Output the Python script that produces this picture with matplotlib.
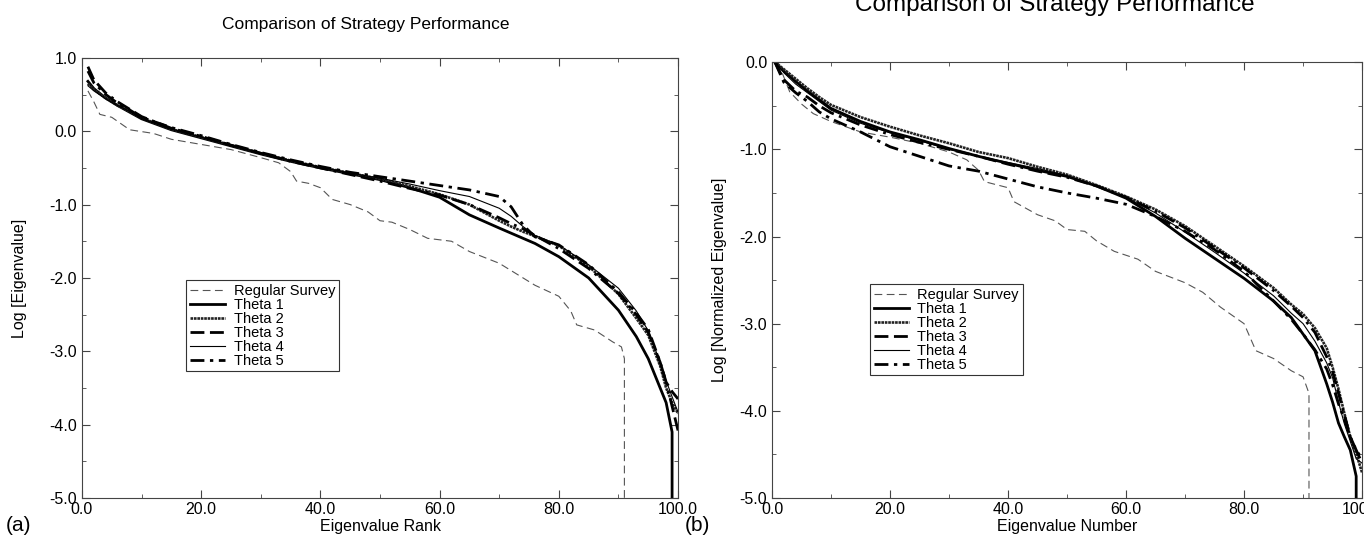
import numpy as np
import matplotlib.pyplot as plt
from matplotlib.ticker import MultipleLocator, FormatStrFormatter

plt.rcParams['font.family'] = ['Liberation Sans', 'DejaVu Sans']
plt.rcParams['axes.unicode_minus'] = False

labels = ['Regular Survey', 'Theta 1', 'Theta 2', 'Theta 3', 'Theta 4', 'Theta 5']

# ---- panel (a): Log [Eigenvalue] vs rank
xa_reg = [1, 2, 3, 5, 8, 12, 15, 20, 25, 30, 33, 35, 36, 38, 40, 42, 45, 48, 50, 52,
          55, 58, 62, 65, 70, 73, 76, 80, 82, 83, 86, 89, 90.5, 91, 91]
ya_reg = [0.55, 0.40, 0.23, 0.19, 0.02, -0.03, -0.11, -0.18, -0.25, -0.36, -0.43, -0.55,
          -0.68, -0.71, -0.77, -0.93, -1.00, -1.10, -1.22, -1.24, -1.34, -1.46, -1.50,
          -1.64, -1.80, -1.95, -2.10, -2.25, -2.45, -2.64, -2.71, -2.87, -2.94, -3.10, -5.0]

xa = [1, 2, 4, 6, 8, 10, 15, 20, 25, 30, 35, 40, 45, 50, 55, 60, 65, 70, 72, 74, 76,
      80, 85, 90, 93, 95, 97, 98, 99, 100]
xa_t1 = xa[:-1] + [99]
ya_t1 = [0.68, 0.58, 0.45, 0.35, 0.26, 0.17, 0.02, -0.09, -0.20, -0.31, -0.41, -0.50,
         -0.58, -0.66, -0.77, -0.90, -1.14, -1.32, -1.39, -1.46, -1.53, -1.71, -2.00,
         -2.44, -2.80, -3.10, -3.50, -3.70, -4.10, -5.0]
ya_t2 = [0.65, 0.57, 0.45, 0.35, 0.27, 0.18, 0.03, -0.08, -0.19, -0.30, -0.40, -0.49,
         -0.57, -0.65, -0.75, -0.86, -1.00, -1.22, -1.30, -1.37, -1.43, -1.56, -1.84,
         -2.22, -2.55, -2.78, -3.20, -3.50, -3.70, -3.85]
ya_t3 = [0.88, 0.70, 0.52, 0.40, 0.30, 0.20, 0.04, -0.07, -0.19, -0.30, -0.41, -0.50,
         -0.59, -0.68, -0.78, -0.87, -1.00, -1.18, -1.26, -1.33, -1.42, -1.60, -1.87,
         -2.21, -2.50, -2.74, -3.15, -3.42, -3.75, -4.08]
ya_t4 = [0.62, 0.55, 0.44, 0.35, 0.27, 0.17, 0.03, -0.08, -0.19, -0.30, -0.40, -0.49,
         -0.57, -0.64, -0.72, -0.81, -0.89, -1.05, -1.16, -1.30, -1.42, -1.55, -1.82,
         -2.14, -2.45, -2.72, -3.15, -3.40, -3.62, -3.83]
ya_t5 = [0.82, 0.66, 0.50, 0.38, 0.29, 0.19, 0.05, -0.06, -0.18, -0.29, -0.39, -0.48,
         -0.56, -0.62, -0.68, -0.74, -0.80, -0.89, -1.03, -1.28, -1.44, -1.55, -1.82,
         -2.19, -2.48, -2.70, -3.15, -3.42, -3.55, -3.65]

# ---- panel (b): Log [Normalized Eigenvalue] vs number
xb_reg = [1, 3, 5, 7, 10, 15, 20, 25, 30, 33, 35, 36, 40, 41, 45, 48, 50, 53, 55, 58,
          62, 65, 70, 73, 76, 80, 82, 85, 88, 90, 91, 91]
yb_reg = [0.0, -0.34, -0.48, -0.59, -0.68, -0.80, -0.86, -0.93, -1.03, -1.12, -1.24,
          -1.37, -1.44, -1.60, -1.75, -1.82, -1.92, -1.94, -2.05, -2.17, -2.26, -2.40,
          -2.53, -2.64, -2.81, -3.00, -3.31, -3.40, -3.54, -3.61, -3.80, -5.0]

xb = [0.5, 2, 4, 6, 8, 10, 15, 20, 25, 30, 35, 40, 45, 50, 55, 60, 65, 70, 75, 80, 85,
      88, 90, 92, 94, 95, 96, 97, 98, 99, 100]
xb_t1 = xb[:-1] + [99]
yb_t1 = [0.0, -0.10, -0.22, -0.33, -0.43, -0.53, -0.68, -0.80, -0.89, -0.99, -1.08,
         -1.16, -1.24, -1.31, -1.42, -1.56, -1.77, -2.02, -2.25, -2.48, -2.74, -2.93,
         -3.12, -3.31, -3.69, -3.90, -4.14, -4.30, -4.45, -4.75, -5.0]
yb_t2 = [0.0, -0.08, -0.19, -0.30, -0.40, -0.49, -0.63, -0.74, -0.84, -0.93, -1.03,
         -1.10, -1.20, -1.29, -1.41, -1.54, -1.69, -1.88, -2.11, -2.34, -2.59, -2.78,
         -2.89, -3.05, -3.28, -3.50, -3.75, -4.03, -4.30, -4.49, -4.71]
yb_t3 = [0.0, -0.20, -0.33, -0.40, -0.50, -0.58, -0.72, -0.83, -0.92, -1.00, -1.08,
         -1.17, -1.25, -1.32, -1.42, -1.55, -1.71, -1.90, -2.13, -2.36, -2.62, -2.80,
         -2.93, -3.10, -3.38, -3.55, -3.80, -4.05, -4.30, -4.45, -4.55]
yb_t4 = [0.0, -0.12, -0.25, -0.35, -0.45, -0.55, -0.70, -0.81, -0.90, -1.00, -1.08,
         -1.15, -1.22, -1.30, -1.42, -1.55, -1.73, -1.95, -2.18, -2.42, -2.68, -2.88,
         -3.00, -3.20, -3.45, -3.62, -3.90, -4.15, -4.35, -4.55, -4.60]
yb_t5 = [0.0, -0.23, -0.35, -0.45, -0.57, -0.65, -0.80, -0.97, -1.08, -1.19, -1.25,
         -1.34, -1.43, -1.50, -1.56, -1.63, -1.77, -1.94, -2.15, -2.40, -2.74, -2.95,
         -3.12, -3.30, -3.52, -3.70, -3.92, -4.10, -4.30, -4.45, -4.60]

styles = [
    dict(color='#555555', lw=0.8, ls=(0, (7, 4))),
    dict(color='black', lw=2.0, ls='-'),
    dict(color='#222222', lw=1.9, ls=(0, (1, 0.3))),
    dict(color='black', lw=2.0, ls=(0, (5, 2, 5, 2, 1, 2))),
    dict(color='black', lw=0.8, ls='-'),
    dict(color='black', lw=2.0, ls=(0, (5, 2, 1.2, 2))),
]


def draw(ax, series, ylim, xlabel, ylabel, leg_anchor, ylabelpad):
    for (x, y), lab, st in zip(series, labels, styles):
        ax.plot(x, y, label=lab, **st)
    ax.set_xlim(0, 100)
    ax.set_ylim(*ylim)
    ax.xaxis.set_major_locator(MultipleLocator(20))
    ax.xaxis.set_minor_locator(MultipleLocator(10))
    ax.yaxis.set_major_locator(MultipleLocator(1.0))
    ax.yaxis.set_minor_locator(MultipleLocator(0.5))
    ax.xaxis.set_major_formatter(FormatStrFormatter('%.1f'))
    ax.yaxis.set_major_formatter(FormatStrFormatter('%.1f'))
    ax.tick_params(which='both', direction='in', top=True, right=True,
                   labelsize=11.5, color='#444444')
    ax.tick_params(which='major', length=6, width=0.8)
    ax.tick_params(which='minor', length=3, width=0.6)
    ax.tick_params(axis='x', pad=3)
    for sp in ax.spines.values():
        sp.set_color('#444444')
        sp.set_linewidth(0.8)
    ax.set_xlabel(xlabel, fontsize=11.5, labelpad=1)
    ax.set_ylabel(ylabel, fontsize=11.5, labelpad=ylabelpad)
    leg = ax.legend(loc='upper left', bbox_to_anchor=leg_anchor, fontsize=10.5,
                    handlelength=2.4, handletextpad=0.6, labelspacing=0.0,
                    borderpad=0.25, borderaxespad=0, fancybox=False, framealpha=1)
    leg.get_frame().set_edgecolor('#333333')
    leg.get_frame().set_linewidth(0.8)


fig = plt.figure(figsize=(13.64, 5.42), dpi=100)
ax1 = fig.add_axes([0.0601, 0.0812, 0.437, 0.812])
ax2 = fig.add_axes([0.566, 0.0812, 0.4326, 0.804])

draw(ax1, [(xa_reg, ya_reg), (xa_t1, ya_t1), (xa, ya_t2), (xa, ya_t3), (xa, ya_t4), (xa, ya_t5)],
     (-5.0, 1.0), 'Eigenvalue Rank', 'Log [Eigenvalue]', (0.175, 0.495), 16)
draw(ax2, [(xb_reg, yb_reg), (xb_t1, yb_t1), (xb, yb_t2), (xb, yb_t3), (xb, yb_t4), (xb, yb_t5)],
     (-5.0, 0.0), 'Eigenvalue Number', 'Log [Normalized Eigenvalue]', (0.166, 0.491), 9)

fig.text(0.268, 0.955, 'Comparison of Strategy Performance', ha='center', va='center', fontsize=12.5)
fig.text(0.773, 0.99, 'Comparison of Strategy Performance', ha='center', va='center', fontsize=17.5)
fig.text(0.004, 0.03, '(a)', fontsize=15, va='center')
fig.text(0.502, 0.03, '(b)', fontsize=15, va='center')

fig.savefig('out.png', dpi=100)
